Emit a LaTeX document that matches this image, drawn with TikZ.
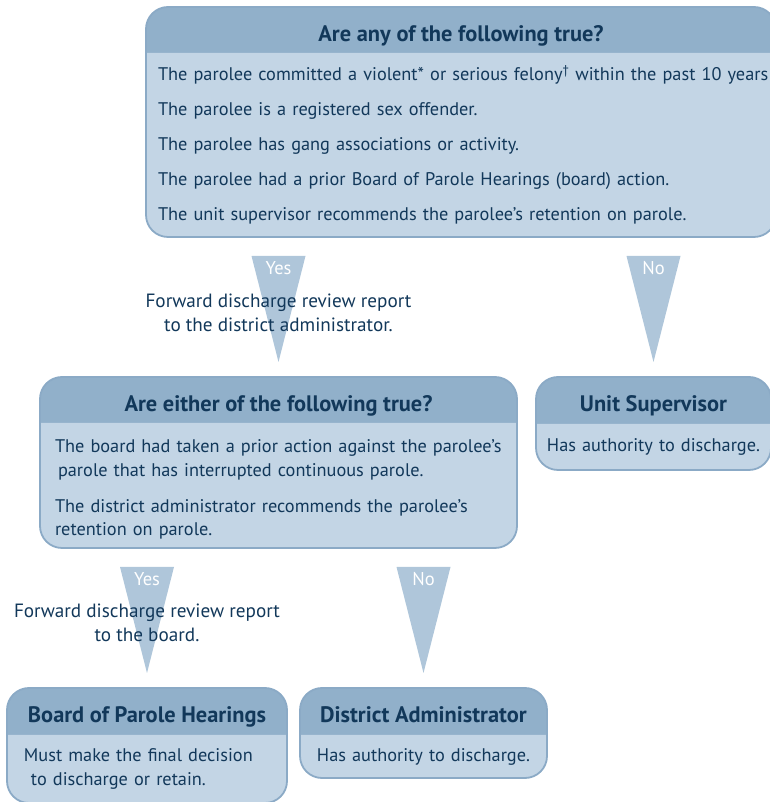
\documentclass[tikz,border=0pt]{standalone}
\usepackage{fontspec}
\setmainfont{PT Sans}
\usetikzlibrary{positioning,calc,backgrounds}

\definecolor{hdrblue}{HTML}{91B0CA}
\definecolor{bodyblue}{HTML}{C3D5E5}
\definecolor{edgeblue}{HTML}{8BAAC6}
\definecolor{wedgeblue}{HTML}{AFC6DA}
\definecolor{inkblue}{HTML}{12385A}

% title band + body under one rounded outline
\newcommand{\panel}[2]{%
  \begin{scope}[on background layer]
    \fill[hdrblue] (#1.south west) [rounded corners=22pt] -- (#1.north west) -- (#1.north east) [sharp corners] -- (#1.south east) -- cycle;
    \fill[bodyblue] (#2.north west) [rounded corners=22pt] -- (#2.south west) -- (#2.south east) [sharp corners] -- (#2.north east) -- cycle;
  \end{scope}
  \draw[edgeblue, line width=1.8pt, rounded corners=22pt] (#1.north west) rectangle (#2.south east);
}

\begin{document}
\begin{tikzpicture}[
  x=1pt, y=1pt,
  hdr/.style={anchor=north west, inner sep=0pt, outer sep=0pt, text height=23pt, text depth=0pt, text=inkblue, font=\bfseries\fontsize{22.4}{26}\selectfont},
  body/.style={below=0pt of #1, inner xsep=12pt, inner ysep=0pt, outer sep=0pt, align=left, text=inkblue, font=\fontsize{18.3}{23.5}\selectfont},
  note/.style={align=center, text=inkblue, font=\fontsize{19.2}{24}\selectfont},
  yesno/.style={text=white, font=\fontsize{18.5}{20}\selectfont},
]
  \useasboundingbox (0,0) rectangle (769,802);

  % first question
  \node[hdr, minimum width=630, minimum height=46] (q1h) at (146,795) {Are any of the following true?};
  \node[body=q1h, text width=606, minimum height=184] (q1b) {%
    \mbox{The parolee committed a violent* or serious felony\textsuperscript{\dag} within the past 10 years}\\[11.5pt]
    The parolee is a registered sex offender.\\[11.5pt]
    The parolee has gang associations or activity.\\[11.5pt]
    The parolee had a prior Board of Parole Hearings (board) action.\\[11.5pt]
    The unit supervisor recommends the parolee’s retention on parole.};
  \panel{q1h}{q1b}

  % second question
  \node[hdr, minimum width=477, minimum height=46] (q2h) at (40,425) {Are either of the following true?};
  \node[body=q2h, inner xsep=15pt, text width=447, minimum height=125] (q2b) {%
    \rule{0pt}{21pt}\mbox{The board had taken a prior action against the parolee’s}\\
    \hspace*{3pt}parole that has interrupted continuous parole.\\[12.5pt]
    The district administrator recommends the parolee’s\\
    retention on parole.};
  \panel{q2h}{q2b}

  % unit supervisor
  \node[hdr, minimum width=235, minimum height=47] (unith) at (536,425) {Unit Supervisor};
  \node[body=unith, inner xsep=4pt, text width=227, minimum height=46, align=center] (unitb) {Has authority to discharge.};
  \panel{unith}{unitb}

  % board of parole hearings
  \node[hdr, minimum width=280, minimum height=47] (boardh) at (7,114) {Board of Parole Hearings};
  \node[body=boardh, text width=256, minimum height=68] (boardb) {%
    \hspace*{5pt}Must make the final decision\\
    \hspace*{12pt}to discharge or retain.};
  \panel{boardh}{boardb}

  % district administrator
  \node[hdr, minimum width=247, minimum height=47] (disth) at (300,114) {District Administrator};
  \node[body=disth, inner xsep=4pt, text width=239, minimum height=43, align=center] (distb) {Has authority to discharge.};
  \panel{disth}{distb}

  % yes / no wedges
  \fill[wedgeblue] ($(q1b.south -| q2h.north)+(-27,-19)$) -- ++(54,0) -- ($(q2h.north)+(0,15)$) -- cycle;
  \fill[wedgeblue] ($(q1b.south -| unith.north)+(-27,-19)$) -- ++(54,0) -- ($(unith.north)+(0,15)$) -- cycle;
  \fill[wedgeblue] ($(q2b.south -| boardh.north)+(-27,-19)$) -- ++(54,0) -- ($(boardh.north)+(0,15)$) -- cycle;
  \fill[wedgeblue] ($(q2b.south -| disth.north)+(-27,-19)$) -- ++(54,0) -- ($(disth.north)+(0,15)$) -- cycle;

  \node[yesno] (yes1) at ($(q1b.south -| q2h.north)+(0,-31)$) {Yes};
  \node[yesno] (no1) at ($(q1b.south -| unith.north)+(0,-31)$) {No};
  \node[yesno] (yes2) at ($(q2b.south -| boardh.north)+(0,-31)$) {Yes};
  \node[yesno] (no2) at ($(q2b.south -| disth.north)+(0,-31)$) {No};

  \node[note] (fwd1) at ($(q1b.south -| q2h.north)+(0,-76)$) {Forward discharge review report\\to the district administrator.};
  \node[note] (fwd2) at ($(q2b.south -| boardh.north)+(0,-75)$) {Forward discharge review report\\to the board.};
\end{tikzpicture}
\end{document}
